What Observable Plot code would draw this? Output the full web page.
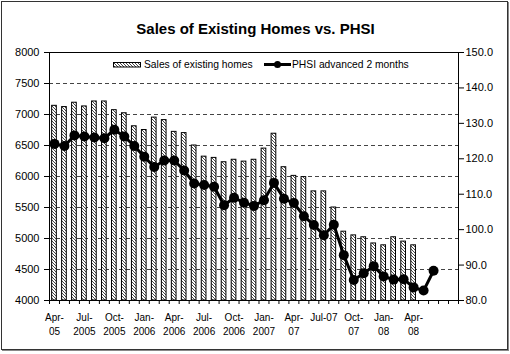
<!DOCTYPE html>
<html>
<head>
<meta charset="utf-8">
<script src="https://cdn.jsdelivr.net/npm/d3@7"></script>
<script src="https://cdn.jsdelivr.net/npm/@observablehq/plot@0.6"></script>
<style>
  html, body { margin: 0; padding: 0; background: #fff; }
  body { font-family: "Liberation Sans", Arial, sans-serif; }
  #wrap { position: relative; width: 510px; height: 354px; overflow: hidden; background: #fff; }
  #chart svg { display: block; }
  #border { position: absolute; left: 1px; top: 1px; width: 505px; height: 347px; border: 1px solid #333; box-shadow: 1px 1px 0 #888; pointer-events: none; }
  #legend { position: absolute; left: 0; top: 0; pointer-events: none; }
</style>
</head>
<body>
<div id="wrap">
  <div id="chart"></div>
  <svg id="legend" width="510" height="354" font-family="Liberation Sans, Arial, sans-serif">
    <defs>
      <pattern id="hatchL" patternUnits="userSpaceOnUse" width="3" height="3">
        <rect width="3" height="3" fill="#fff"></rect>
        <path d="M0,0L3,3M-1,2L1,4M2,-1L4,1" stroke="#333" stroke-width="0.9"></path>
      </pattern>
    </defs>
    <rect x="113.5" y="62.5" width="27" height="4.5" fill="url(#hatchL)" stroke="#000" stroke-width="1"></rect>
    <text id="lg1" x="144" y="64.8" dy="0.35em" font-size="10.3" fill="#000"></text>
    <line x1="264" x2="291" y1="64.5" y2="64.5" stroke="#000" stroke-width="3"></line>
    <circle cx="277.5" cy="64.5" r="3.5" fill="#000"></circle>
    <text id="lg2" x="292" y="64.8" dy="0.35em" font-size="10.3" fill="#000"></text>
  </svg>
  <div id="border"></div>
</div>
<script>
// ---- data ----
const title = "Sales of Existing Homes vs. PHSI";
const seriesNames = ["Sales of existing homes", "PHSI advanced 2 months"];

const months = [
  "Apr-05","May-05","Jun-05","Jul-05","Aug-05","Sep-05","Oct-05","Nov-05","Dec-05",
  "Jan-06","Feb-06","Mar-06","Apr-06","May-06","Jun-06","Jul-06","Aug-06","Sep-06","Oct-06","Nov-06","Dec-06",
  "Jan-07","Feb-07","Mar-07","Apr-07","May-07","Jun-07","Jul-07","Aug-07","Sep-07","Oct-07","Nov-07","Dec-07",
  "Jan-08","Feb-08","Mar-08","Apr-08","May-08","Jun-08","Jul-08","Aug-08"
];

// Sales of existing homes (thousands, left axis), Apr-05 .. Apr-08
const sales = [
  7140, 7120, 7190, 7130, 7210, 7210, 7070, 7020, 6810, 6750,
  6950, 6910, 6720, 6700, 6500, 6320, 6300, 6230, 6270, 6240,
  6270, 6450, 6690, 6150, 6010, 5990, 5760, 5760, 5500, 5110,
  5050, 5020, 4920, 4890, 5020, 4950, 4890
];

// PHSI advanced 2 months (right axis), Apr-05 .. Jun-08
const phsi = [
  124.2, 123.6, 126.6, 126.3, 126.0, 125.8, 128.2, 126.3, 123.6, 120.6,
  117.7, 119.5, 119.5, 116.7, 113.0, 112.6, 112.1, 106.9, 109.0, 107.6,
  106.7, 108.3, 113.2, 108.7, 107.5, 103.8, 101.3, 98.4, 101.4, 92.8,
  85.8, 87.7, 89.7, 86.8, 85.9, 86.0, 83.7, 82.8, 88.4
];

const leftTicks = [4000, 4500, 5000, 5500, 6000, 6500, 7000, 7500, 8000];
const gridValues = [4500, 5000, 5500, 6000, 6500, 7000, 7500];
const rightTicks = [80, 90, 100, 110, 120, 130, 140, 150];
const tickMonths = ["Apr-05","Jul-05","Oct-05","Jan-06","Apr-06","Jul-06","Oct-06","Jan-07","Apr-07","Jul-07","Oct-07","Jan-08","Apr-08"];
const tickLabels = ["Apr-\n05","Jul-\n2005","Oct-\n2005","Jan-\n2006","Apr-\n2006","Jul-\n2006","Oct-\n2006","Jan-\n2007","Apr-\n07","Jul-07","Oct-\n07","Jan-\n08","Apr-\n08"];

// ---- tables ----
const salesData = sales.map((v, i) => ({month: months[i], value: v}));
const phsiData = phsi.map((v, i) => ({month: months[i], value: v}));

// right axis (80..150) mapped onto left axis (4000..8000)
const toLeft = v => 4000 + (v - 80) * 4000 / 70;
const fromLeft = y => 80 + (y - 4000) * 70 / 4000;

const W = 510, H = 354, mL = 49, mR = 52, mT = 52, mB = 54;
const step = (W - mL - mR) / months.length;
const font = "Liberation Sans, Arial, sans-serif";

const chart = Plot.plot({
  width: W, height: H,
  marginLeft: mL, marginRight: mR, marginTop: mT, marginBottom: mB,
  style: {fontFamily: font, color: "#000", background: "transparent", overflow: "visible"},
  x: {type: "band", domain: months, paddingInner: 0.53, paddingOuter: 0.265, axis: null},
  y: {domain: [4000, 8000], axis: null},
  marks: [
    Plot.ruleY(gridValues, {stroke: "#444", strokeDasharray: "4,3", strokeWidth: 1}),
    Plot.barY(salesData, {x: "month", y1: 4000, y2: "value", fill: "url(#hatch)", stroke: "#000", strokeWidth: 1}),
    Plot.line(phsiData, {x: "month", y: d => toLeft(d.value), stroke: "#000", strokeWidth: 3}),
    Plot.dot(phsiData, {x: "month", y: d => toLeft(d.value), r: 5, fill: "#000", stroke: "none"}),
    Plot.frame({stroke: "#000"}),
    Plot.axisY({anchor: "left", ticks: leftTicks, tickFormat: d => String(d), tickSize: 5, tickPadding: 5, fontSize: 11, label: null}),
    Plot.axisY({anchor: "right", ticks: rightTicks.map(toLeft), tickFormat: d => fromLeft(d).toFixed(1), tickSize: 5, tickPadding: 2, fontSize: 11, label: null}),
    Plot.axisX({ticks: tickMonths, tickFormat: m => tickLabels[tickMonths.indexOf(m)], tickSize: 0, tickPadding: 11, fontSize: 10, lineHeight: 1.4, label: null}),
    Plot.axisX({ticks: months, tickFormat: () => "", tickSize: 4, dx: -step / 2, label: null}),
    Plot.axisX({ticks: [months[months.length - 1]], tickFormat: () => "", tickSize: 4, dx: step / 2, label: null}),
    Plot.text([title], {frameAnchor: "top", dy: -29, dx: 1.5, fontSize: 15, fontWeight: "bold", fill: "#000"})
  ]
});

const svg = d3.select(chart);
svg.insert("defs", ":first-child").html(
  '<pattern id="hatch" patternUnits="userSpaceOnUse" width="3" height="3">' +
  '<rect width="3" height="3" fill="#fff"></rect>' +
  '<path d="M0,0L3,3M-1,2L1,4M2,-1L4,1" stroke="#333" stroke-width="0.9"></path></pattern>'
);
document.getElementById("chart").appendChild(chart);
document.getElementById("lg1").textContent = seriesNames[0];
document.getElementById("lg2").textContent = seriesNames[1];
</script>
</body>
</html>
